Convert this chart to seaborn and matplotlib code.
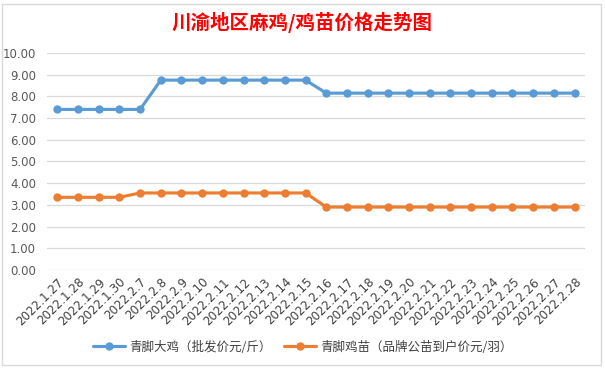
import matplotlib
matplotlib.use("Agg")
import matplotlib.pyplot as plt
import seaborn as sns
import pandas as pd
from matplotlib.patches import Rectangle
from matplotlib.lines import Line2D

dates = ["2022.1.27", "2022.1.28", "2022.1.29", "2022.1.30", "2022.2.7", "2022.2.8",
         "2022.2.9", "2022.2.10", "2022.2.11", "2022.2.12", "2022.2.13", "2022.2.14",
         "2022.2.15", "2022.2.16", "2022.2.17", "2022.2.18", "2022.2.19", "2022.2.20",
         "2022.2.21", "2022.2.22", "2022.2.23", "2022.2.24", "2022.2.25", "2022.2.26",
         "2022.2.27", "2022.2.28"]
chicken = [7.4, 7.4, 7.4, 7.4, 7.4, 8.75, 8.75, 8.75, 8.75, 8.75, 8.75, 8.75, 8.75,
           8.15, 8.15, 8.15, 8.15, 8.15, 8.15, 8.15, 8.15, 8.15, 8.15, 8.15, 8.15, 8.15]
chick = [3.35, 3.35, 3.35, 3.35, 3.55, 3.55, 3.55, 3.55, 3.55, 3.55, 3.55, 3.55, 3.55,
         2.9, 2.9, 2.9, 2.9, 2.9, 2.9, 2.9, 2.9, 2.9, 2.9, 2.9, 2.9, 2.9]
series_names = ["青脚大鸡（批发价元/斤）", "青脚鸡苗（品牌公苗到户价元/羽）"]
title = "川渝地区麻鸡/鸡苗价格走势图"
colors = ["#5B9BD5", "#ED7D31"]

sns.set_theme(style="white")
plt.rcParams["font.family"] = ["Noto Sans CJK SC", "DejaVu Sans"]

df = pd.DataFrame({
    "date": dates * 2,
    "value": chicken + chick,
    "series": [series_names[0]] * len(dates) + [series_names[1]] * len(dates),
})

fig = plt.figure(figsize=(6.05, 3.68), dpi=100)
ax = fig.add_axes([0.0777, 0.2663, 0.889, 0.5897])

sns.lineplot(data=df, x="date", y="value", hue="series", palette=colors,
             sort=False, marker="o", markersize=6, markeredgewidth=0,
             linewidth=2.25, ax=ax, legend=False)

ax.set_xlim(-0.5, len(dates) - 0.5)
ax.set_ylim(0, 10)
ax.set_yticks([i for i in range(11)])
ax.set_yticklabels([f"{i:.2f}" for i in range(11)], fontsize=8.5, color="#595959",
                   family=["DejaVu Sans"])
ax.set_xticks(range(len(dates)))
ax.set_xticklabels(dates, rotation=45, ha="right", rotation_mode="anchor",
                   fontsize=8.6, color="#404040", family=["DejaVu Sans"])
ax.tick_params(axis="x", length=0, pad=4)
ax.tick_params(axis="y", length=0, pad=8)
ax.set_xlabel("")
ax.set_ylabel("")
ax.grid(axis="y", color="#D9D9D9", linewidth=0.9)
ax.set_axisbelow(True)
for s in ax.spines.values():
    s.set_visible(False)

fig.text(0.5, 0.94, title, ha="center", va="center", color="#FF0000",
         fontsize=14, fontweight="bold")

handles = [Line2D([0], [0], color=c, lw=2.25, marker="o", markersize=6, markeredgewidth=0)
           for c in colors]
fig.legend(handles, series_names, loc="center", bbox_to_anchor=(0.5, 0.057), ncol=2,
           frameon=False, fontsize=9, handlelength=2.6, columnspacing=1.0,
           handletextpad=0.3, labelcolor="#404040")

fig.patches.append(Rectangle((0.004, 0.008), 0.99, 0.982, transform=fig.transFigure,
                             fill=False, edgecolor="#D9D9D9", linewidth=1))

fig.savefig("out.png", dpi=100, facecolor="white")
